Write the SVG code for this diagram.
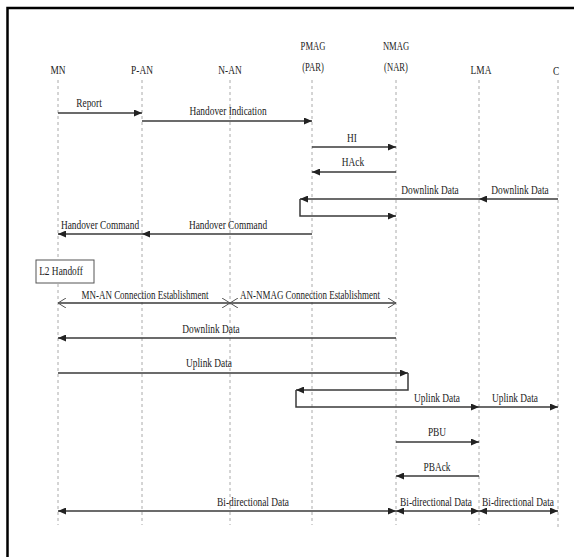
<svg xmlns="http://www.w3.org/2000/svg" width="574" height="557" viewBox="0 0 574 557">
<defs>
<style>
.t{font-family:"Liberation Serif","Times New Roman",serif;font-size:13px;fill:#222;text-anchor:middle}
.life{stroke:#aaa;stroke-width:1;stroke-dasharray:3 3;fill:none}
.m{stroke:#3a3a3a;stroke-width:1.5;fill:none}
.frame{stroke:#000;stroke-width:2.5;fill:none}
</style>
<marker id="a" viewBox="0 0 8 7" markerWidth="8" markerHeight="7" refX="8" refY="3.5" orient="auto-start-reverse" markerUnits="userSpaceOnUse">
<path d="M0,0 L8,3.5 L0,7 z" fill="#222"/>
</marker>
<marker id="o" viewBox="0 0 8 10" markerWidth="8" markerHeight="10" refX="8" refY="5" orient="auto-start-reverse" markerUnits="userSpaceOnUse">
<path d="M0,0 L8,5 L0,10" fill="none" stroke="#555" stroke-width="1"/>
</marker>
</defs>
<rect width="574" height="557" fill="#fff"/>
<path class="frame" d="M7.5,557 V8 H574"/>

<g id="MN"><text class="t" transform="translate(58,74) scale(0.72,1)">MN</text><line class="life" x1="58" y1="80" x2="58" y2="525"/></g>
<g id="P-AN"><text class="t" transform="translate(142,74) scale(0.72,1)">P-AN</text><line class="life" x1="142" y1="80" x2="142" y2="525"/></g>
<g id="N-AN"><text class="t" transform="translate(230,74) scale(0.72,1)">N-AN</text><line class="life" x1="230" y1="80" x2="230" y2="525"/></g>
<g id="PMAG"><text class="t" transform="translate(313,50) scale(0.66,1)">PMAG</text><text class="t" transform="translate(313,71) scale(0.66,1)">(PAR)</text><line class="life" x1="312" y1="80" x2="312" y2="525"/></g>
<g id="NMAG"><text class="t" transform="translate(396,50) scale(0.66,1)">NMAG</text><text class="t" transform="translate(396,71) scale(0.66,1)">(NAR)</text><line class="life" x1="396" y1="80" x2="396" y2="525"/></g>
<g id="LMA"><text class="t" transform="translate(481,74) scale(0.72,1)">LMA</text><line class="life" x1="479" y1="80" x2="479" y2="525"/></g>
<g id="C"><text class="t" transform="translate(556,75) scale(0.72,1)">C</text><line class="life" x1="558" y1="80" x2="558" y2="530"/></g>
<g id="L2Handoff"><rect x="36" y="260" width="58" height="23" fill="#fff" stroke="#555" stroke-width="1"/><text class="t" transform="translate(61,275) scale(0.72,1)">L2 Handoff</text></g>

<g id="connectors">
<line class="m" x1="58" y1="113" x2="142" y2="113" marker-end="url(#a)"/>
<line class="m" x1="142" y1="121" x2="312" y2="121" marker-end="url(#a)"/>
<line class="m" x1="312" y1="147" x2="396" y2="147" marker-end="url(#a)"/>
<line class="m" x1="396" y1="172" x2="312" y2="172" marker-end="url(#a)"/>
<line class="m" x1="558" y1="199" x2="479" y2="199" marker-end="url(#a)"/>
<line class="m" x1="479" y1="199" x2="300" y2="199" marker-end="url(#a)"/>
<path class="m" d="M300,199 V216 H396" marker-end="url(#a)"/>
<line class="m" x1="312" y1="234" x2="142" y2="234" marker-end="url(#a)"/>
<line class="m" x1="142" y1="234" x2="58" y2="234" marker-end="url(#a)"/>
<line class="m" x1="58" y1="303" x2="230" y2="303" stroke-width="1.2" marker-start="url(#o)" marker-end="url(#o)"/>
<line class="m" x1="230" y1="303" x2="396" y2="303" stroke-width="1.2" marker-start="url(#o)" marker-end="url(#o)"/>
<line class="m" x1="396" y1="338" x2="58" y2="338" marker-end="url(#a)"/>
<line class="m" x1="58" y1="373" x2="408" y2="373" marker-end="url(#a)"/>
<path class="m" d="M408,373 V390 H296" marker-end="url(#a)"/>
<path class="m" d="M296,390 V407 H479" marker-end="url(#a)"/>
<line class="m" x1="479" y1="407" x2="558" y2="407" marker-end="url(#a)"/>
<line class="m" x1="396" y1="442" x2="479" y2="442" marker-end="url(#a)"/>
<line class="m" x1="479" y1="476" x2="396" y2="476" marker-end="url(#a)"/>
<line class="m" x1="58" y1="511" x2="396" y2="511" marker-start="url(#a)" marker-end="url(#a)"/>
<line class="m" x1="396" y1="511" x2="479" y2="511" marker-start="url(#a)" marker-end="url(#a)"/>
<line class="m" x1="479" y1="511" x2="558" y2="511" marker-start="url(#a)" marker-end="url(#a)"/>

<text class="t" transform="translate(89,107) scale(0.72,1)">Report</text>
<text class="t" transform="translate(228,115) scale(0.72,1)">Handover Indication</text>
<text class="t" transform="translate(352,142) scale(0.72,1)">HI</text>
<text class="t" transform="translate(353,166) scale(0.72,1)">HAck</text>
<text class="t" transform="translate(430,194) scale(0.72,1)">Downlink Data</text>
<text class="t" transform="translate(520,194) scale(0.72,1)">Downlink Data</text>
<text class="t" transform="translate(100,229) scale(0.72,1)">Handover Command</text>
<text class="t" transform="translate(228,229) scale(0.72,1)">Handover Command</text>
<text class="t" transform="translate(145,299) scale(0.69,1)">MN-AN Connection Establishment</text>
<text class="t" transform="translate(310,299) scale(0.69,1)">AN-NMAG Connection Establishment</text>
<text class="t" transform="translate(211,333) scale(0.72,1)">Downlink Data</text>
<text class="t" transform="translate(209,367) scale(0.72,1)">Uplink Data</text>
<text class="t" transform="translate(437,402) scale(0.72,1)">Uplink Data</text>
<text class="t" transform="translate(515,402) scale(0.72,1)">Uplink Data</text>
<text class="t" transform="translate(437,436) scale(0.72,1)">PBU</text>
<text class="t" transform="translate(437,471) scale(0.72,1)">PBAck</text>
<text class="t" transform="translate(253,506) scale(0.72,1)">Bi-directional Data</text>
<text class="t" transform="translate(436,506) scale(0.72,1)">Bi-directional Data</text>
<text class="t" transform="translate(518,506) scale(0.72,1)">Bi-directional Data</text>
</g>
</svg>
